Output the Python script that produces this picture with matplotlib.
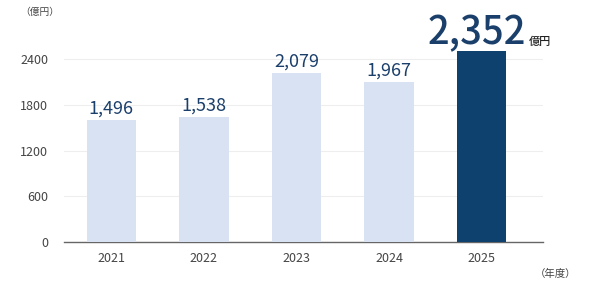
import matplotlib
matplotlib.use("Agg")
import matplotlib.pyplot as plt

plt.rcParams['font.family'] = ['Noto Sans CJK JP', 'DejaVu Sans']

years = ["2021", "2022", "2023", "2024", "2025"]
sales = [1496, 1538, 2079, 1967, 2352]
value_labels = ["1,496", "1,538", "2,079", "1,967", "2,352"]
yticks = [0, 600, 1200, 1800, 2400]
unit_label = "（億円）"
year_label = "（年度）"
highlight_unit = "億円"

light = "#d9e2f3"
dark = "#0f416e"
label_col = "#1b3f6b"
tick_col = "#444444"

fig = plt.figure(figsize=(5.9, 2.85), dpi=100)
W, H = 590, 285
left, right, bottom, top = 64, 543, 242.3, 12.8
ax = fig.add_axes([left / W, 1 - bottom / H, (right - left) / W, (bottom - top) / H])
ax.set_ylim(0, 3000)
ax.set_xlim(-0.511, 4.662)
ax.set_yticks(yticks)
ax.set_yticklabels([str(t) for t in yticks])
ax.set_xticks(range(len(years)))
ax.set_xticklabels(years)
ax.grid(axis='y', color="#eeeeee", linewidth=0.8)
ax.set_axisbelow(True)
for s in ['top', 'right', 'left']:
    ax.spines[s].set_visible(False)
ax.spines['bottom'].set_color("#666666")
ax.spines['bottom'].set_linewidth(1.0)
ax.tick_params(axis='y', length=0, pad=11.5, labelsize=9, labelcolor=tick_col)
ax.tick_params(axis='x', length=0, pad=7, labelsize=9, labelcolor=tick_col)

# bar axis (same frame)
bx = ax.twinx()
bx.set_ylim(0, 2816)
bx.set_xlim(ax.get_xlim())
bx.axis('off')
colors = [light] * (len(years) - 1) + [dark]
bx.bar(range(len(years)), sales, width=0.532, color=colors, zorder=2)

for i, (v, lab) in enumerate(zip(sales, value_labels)):
    if i < len(years) - 1:
        bx.annotate(lab, xy=(i, v), xytext=(0, 6.5), textcoords='offset pixels',
                    ha='center', va='baseline', fontsize=13, color=label_col)
    else:
        bx.annotate(lab, xy=(i, v), xytext=(-5, 6), textcoords='offset pixels',
                    ha='center', va='baseline', fontsize=27.5, color=label_col,
                    fontweight='medium')
        bx.annotate(highlight_unit, xy=(i, v), xytext=(47, 6), textcoords='offset pixels',
                    ha='left', va='baseline', fontsize=8, color="#222222",
                    fontweight='medium')

fig.text(20 / W, 1 - 12 / H, unit_label, ha='left', va='center', fontsize=7, color=tick_col)
fig.text(576 / W, 1 - 274 / H, year_label, ha='right', va='center', fontsize=7.5, color=tick_col)

fig.savefig("out.png", dpi=100)
